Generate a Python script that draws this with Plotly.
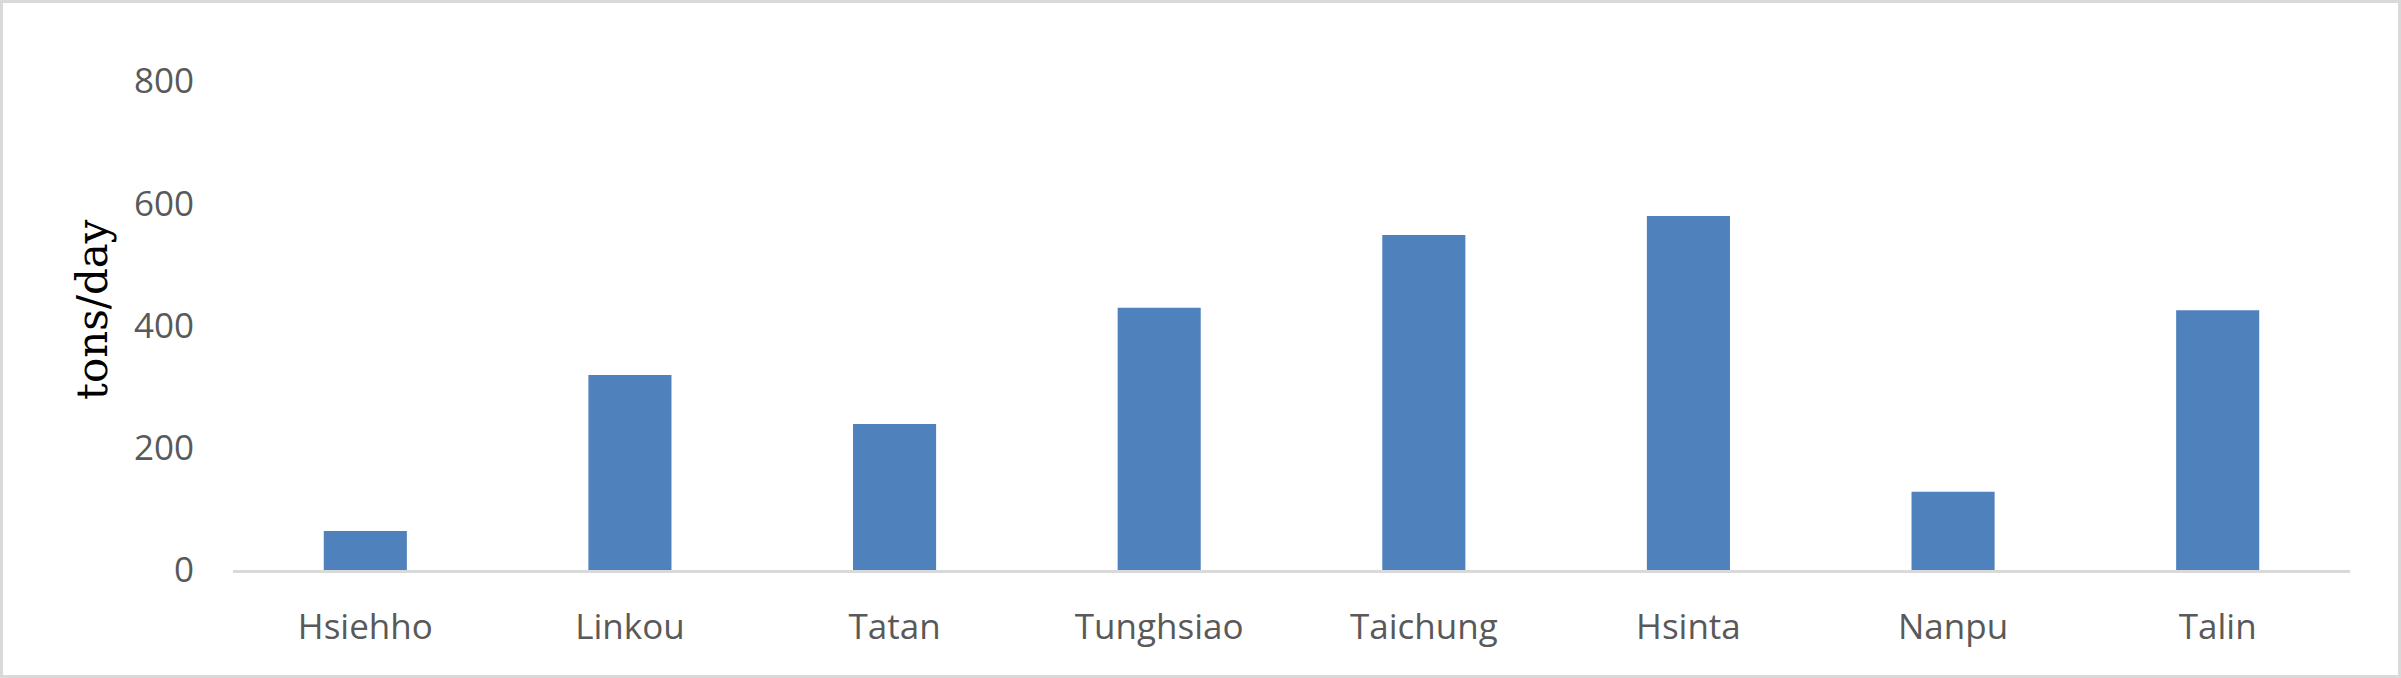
import plotly.graph_objects as go

# stations and daily amounts
stations = ["Hsiehho", "Linkou", "Tatan", "Tunghsiao", "Taichung", "Hsinta", "Nanpu", "Talin"]
tons_per_day = [64, 319, 239, 429, 548, 579, 128, 425]
y_ticks = [0, 200, 400, 600, 800]

W, H = 2401, 678
L, R, T, B = 233, 51, 81, 108
PW, PH = W - L - R, H - T - B


def px_x(p):
    # pixel -> paper x
    return (p - L) / PW


def px_y(p):
    # pixel (from top) -> paper y
    return (H - B - p) / PH


fig = go.Figure(
    go.Bar(
        x=stations,
        y=tons_per_day,
        marker=dict(color="#4F81BD", line=dict(width=0)),
        hoverinfo="x+y",
    )
)

tick_font = dict(family="Open Sans, Segoe UI, sans-serif", size=35, color="#595959")

fig.update_xaxes(
    showgrid=False,
    zeroline=False,
    showline=True,
    linecolor="#D9D9D9",
    linewidth=3,
    ticks="",
    tickfont=tick_font,
    ticklabelstandoff=24,
)
fig.update_yaxes(
    range=[0, 800],
    tickvals=y_ticks,
    showgrid=False,
    zeroline=False,
    showline=False,
    ticks="",
    tickfont=tick_font,
    ticklabelstandoff=38,
)

fig.add_annotation(
    text="tons/day",
    xref="paper", yref="paper",
    x=px_x(92), y=px_y(310),
    xanchor="center", yanchor="middle",
    textangle=-90,
    showarrow=False,
    font=dict(family="DejaVu Serif, serif", size=42, color="#000000"),
)

# light grey frame round the whole chart
fig.add_shape(
    type="rect",
    xref="paper", yref="paper",
    x0=px_x(1.5), x1=px_x(W - 1.5),
    y0=px_y(H - 1.5), y1=px_y(1.5),
    line=dict(color="#D9D9D9", width=3),
    fillcolor="rgba(0,0,0,0)",
    layer="below",
)

fig.update_layout(
    width=W,
    height=H,
    margin=dict(l=L, r=R, t=T, b=B),
    bargap=0.686,
    plot_bgcolor="white",
    paper_bgcolor="white",
    showlegend=False,
)

# drop the browser's default 8px body margin so the chart sits flush
fig.write_html(
    "out.html",
    config={"displayModeBar": False},
    post_script="document.body.style.margin='0';document.body.style.overflow='hidden';",
)
